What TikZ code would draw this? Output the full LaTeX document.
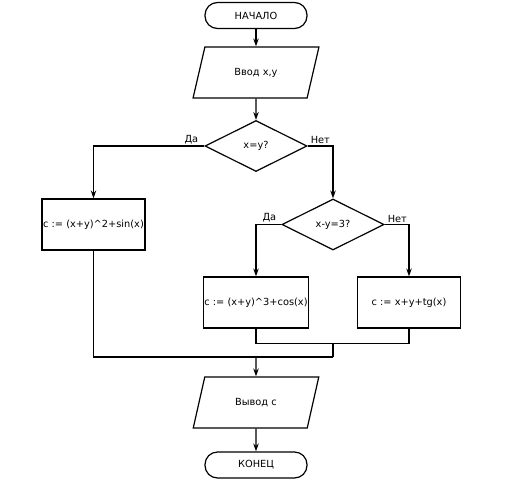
\documentclass[tikz,border=0pt]{standalone}
\usepackage{fontspec}
\setmainfont{DejaVu Sans}
\usetikzlibrary{shapes.geometric,arrows.meta}
\begin{document}
\begin{tikzpicture}[x=1pt,y=-1pt,
  every node/.style={font=\fontsize{9.8}{11}\selectfont},
  base/.style={draw, line width=1.2pt, inner sep=1pt},
  term/.style={base, rectangle, rounded corners=12.5pt, minimum width=102pt, minimum height=26pt},
  io/.style={base, trapezium, trapezium left angle=65, trapezium right angle=115, trapezium stretches=true, minimum width=126pt, minimum height=51pt},
  dec/.style={base, diamond, minimum width=102pt, minimum height=51pt, inner sep=0pt},
  proc/.style={base, rectangle, minimum width=103pt, minimum height=51pt},
  lab/.style={inner sep=1pt},
  conn/.style={line width=1.2pt},
  arr/.style={conn, -{Stealth[length=8pt,width=5.5pt]}}]
\useasboundingbox[fill=white] (0,0) rectangle (511,480);
\node[term] (start) at (256,15.5) {НАЧАЛО};
\node[io] (in) at (256,72.5) {Ввод x,y};
\node[dec] (d1) at (256,146) {x=y?};
\node[proc] (b1) at (93.5,224.5) {c := (x+y)\^{}2+sin(x)};
\node[dec] (d2) at (333,224.5) {x-y=3?};
\node[proc] (b2) at (256,302.5) {c := (x+y)\^{}3+cos(x)};
\node[proc] (b3) at (409,302.5) {c := x+y+tg(x)};
\node[io] (out) at (256,402.5) {Вывод с};
\node[term] (end) at (256,465) {КОНЕЦ};
\node[lab, anchor=south east] (l1) at ([xshift=-5pt,yshift=1pt]d1.west) {Да};
\node[lab, anchor=south west] (l2) at ([xshift=2pt,yshift=1pt]d1.east) {Нет};
\node[lab, anchor=south east] (l3) at ([xshift=-4pt,yshift=1pt]d2.west) {Да};
\node[lab, anchor=south west] (l4) at ([xshift=2pt,yshift=1pt]d2.east) {Нет};
\coordinate (j1) at (256,343.5);
\coordinate (j2) at (333,343.5);
\coordinate (m0) at (93.5,357);
\coordinate (m) at (333,357);
\coordinate (m1) at (256,357);
\draw[arr] (start) -- (in);
\draw[arr] (in) -- (d1);
\draw[arr] (d1.west) -| (b1.north);
\draw[arr] (d1.east) -| (d2.north);
\draw[arr] (d2.west) -| (b2.north);
\draw[arr] (d2.east) -| (b3.north);
\draw[conn] (b2.south) -- (j1) -| (b3.south);
\draw[conn] (j2) -- (m);
\draw[conn] (b1.south) -- (m0) -- (m);
\draw[arr] (m1) -- (out.north);
\draw[arr] (out) -- (end);
\end{tikzpicture}
\end{document}
